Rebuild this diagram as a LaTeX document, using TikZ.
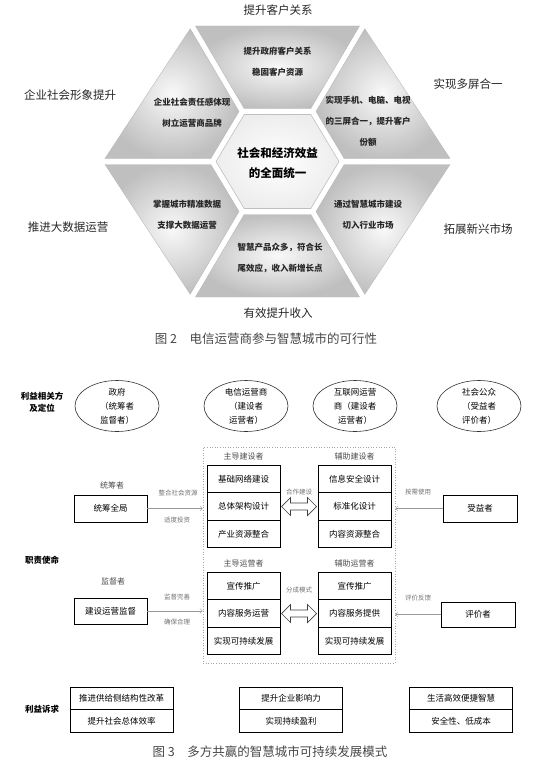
\documentclass[tikz,border=0pt]{standalone}
\usepackage{fontspec}
\setmainfont{Noto Sans CJK SC}
\usetikzlibrary{arrows.meta,positioning,shapes.geometric}

\begin{document}
\begin{tikzpicture}[
    x=1pt, y=-1pt,
    panel/.style={draw=gray!55, line width=0.4pt, inner color=gray!5, outer color=gray!50},
    midhex/.style={draw=gray!50, line width=0.6pt, inner color=white, outer color=gray!14},
    outlabel/.style={font=\fontsize{11.5}{14}\selectfont, text=black!85},
    paneltext/.style={font=\fontsize{8.5}{21}\selectfont\bfseries, align=center, text=black!85},
    figcap/.style={font=\fontsize{12.5}{15}\selectfont, text=black!72},
    rowlabel/.style={font=\fontsize{8.5}{11.5}\selectfont\bfseries, align=center},
    party/.style={ellipse, draw=black!80, line width=0.6pt, minimum width=84,
        minimum height=51, inner sep=0pt, align=center, font=\fontsize{8.5}{14}\selectfont},
    dutybox/.style={draw=black, line width=0.9pt, minimum width=73, minimum height=27.5,
        inner sep=0pt, outer sep=0pt, font=\fontsize{8.5}{10}\selectfont},
    role/.style={font=\fontsize{8}{10}\selectfont, text=black!70},
    hint/.style={font=\fontsize{6.5}{8}\selectfont, text=black!55},
    feed/.style={draw=gray!80, line width=0.4pt, -{Straight Barb[length=2.5pt,width=5pt]}},
    share/.style={draw=black!75, line width=0.7pt, fill=white, line join=miter},
    wish/.style={draw=black, line width=0.9pt, minimum width=103, minimum height=22.5,
        inner sep=0pt, outer sep=0pt, font=\fontsize{8.5}{10}\selectfont},
]

\def\hw{9}    % half height of the arrow head
\def\hl{9}    % length of the arrow head
\def\sw{3.5}  % half height of the arrow shaft

\useasboundingbox (0,0) rectangle (543,768);

% ── Figure 2: hexagon of panels ─────────────────────────────
\begin{scope}[shift={(277.5,161.5)}]
% side panels (mirrored four times)
\foreach \sx/\sy in {1/1, -1/1, 1/-1, -1/-1} {
    \path[panel, xscale=\sx, yscale=\sy]
        (-87.3,-132.7) -- (-172.5,-3) -- (-66.7,-3) -- (-38.5,-50) -- cycle;
}
% top and bottom panels
\foreach \sy in {1,-1} {
    \path[panel, yscale=\sy]
        (-82,-135.5) -- (82,-135.5) -- (33.3,-53) -- (-33.3,-53) -- cycle;
}
% centre
\path[midhex] (-33.3,-47) -- (33.3,-47) -- (61.5,0) -- (33.3,47)
    -- (-33.3,47) -- (-61.5,0) -- cycle;
\end{scope}

\node[font=\fontsize{11.5}{20}\selectfont\bfseries, align=center] (core) at (277.5,163)
    {社会和经济效益\\的全面统一};

% panel texts
\node[paneltext] (ptop) at (277.5,62) {提升政府客户关系\\稳固客户资源};
\node[paneltext] (pul)  at (192,113)  {企业社会责任感体现\\树立运营商品牌};
\node[paneltext] (pur)  at (368,121)  {实现手机、电脑、电视\\的三屏合一，提升客户\\份额};
\node[paneltext] (pll)  at (187,215)  {掌握城市精准数据\\支撑大数据运营};
\node[paneltext] (plr)  at (368,215)  {通过智慧城市建设\\切入行业市场};
\node[paneltext] (pbot) at (280,258)  {智慧产品众多，符合长\\尾效应，收入新增长点};

% outer labels
\node[outlabel] (otop) at (278,10)  {提升客户关系};
\node[outlabel] (oul)  at (70,95)   {企业社会形象提升};
\node[outlabel] (our)  at (468,84)  {实现多屏合一};
\node[outlabel] (oll)  at (68,227)  {推进大数据运营};
\node[outlabel] (olr)  at (478,229) {拓展新兴市场};
\node[outlabel] (obot) at (278,313) {有效提升收入};

\node[figcap] (cap2) at (266,339) {图 2\quad 电信运营商参与智慧城市的可行性};

% ── Figure 3: stakeholders ──────────────────────────────────
\node[rowlabel] (posl) at (42,402) {利益相关方\\及定位};
\node[party] (gov) at (117,406) {政府\\（统筹者\\监督者）};
\node[party] (tel) at (246,406) {电信运营商\\（建设者\\运营者）};
\node[party] (net) at (355,406) {互联网运营\\商（建设者\\运营者）};
\node[party] (pub) at (479,406) {社会公众\\（受益者\\评价者）};

% ── Duties ──────────────────────────────────────────────────
\node[draw=gray!70, dotted, line width=0.6pt, minimum width=192, minimum height=216,
    inner sep=0pt] (zone) at (299,555) {};

\node[role] (leadb) at (243.5,456) {主导建设者};
\node[role] (helpb) at (354.5,456) {辅助建设者};
\node[dutybox] (b1) at (243.5,479) {基础网络建设};
\node[dutybox, below=0pt of b1] (b2) {总体架构设计};
\node[dutybox, below=0pt of b2] (b3) {产业资源整合};
\node[dutybox] (r1) at (354.5,479) {信息安全设计};
\node[dutybox, below=0pt of r1] (r2) {标准化设计};
\node[dutybox, below=0pt of r2] (r3) {内容资源整合};

\node[role] (leado) at (243.5,563) {主导运营者};
\node[role] (helpo) at (354.5,563) {辅助运营者};
\node[dutybox] (o1) at (243.5,586) {宣传推广};
\node[dutybox, below=0pt of o1] (o2) {内容服务运营};
\node[dutybox, below=0pt of o2] (o3) {实现可持续发展};
\node[dutybox] (p1) at (354.5,586) {宣传推广};
\node[dutybox, below=0pt of p1] (p2) {内容服务提供};
\node[dutybox, below=0pt of p2] (p3) {实现可持续发展};

% hollow double arrows between the columns
\foreach \l/\r in {b2/r2, o2/p2} {
    \draw[share] ([xshift=1.5]\l.east) -- ++(\hl,-\hw) -- ++(0,\hw-\sw)
        -- ([shift={(-1.5-\hl,-\sw)}]\r.west) -- ++(0,\sw-\hw)
        -- ([xshift=-1.5]\r.west) -- ++(-\hl,\hw) -- ++(0,\sw-\hw)
        -- ([shift={(1.5+\hl,\sw)}]\l.east) -- ++(0,\hw-\sw) -- cycle;
}
\node[hint] (coop) at (299,492) {合作建设};
\node[hint] (split) at (299,590) {分成模式};

\node[rowlabel] (duty) at (42,560) {职责使命};

% government side
\node[role] (tcl) at (112,485) {统筹者};
\node[dutybox, minimum height=27] (tc) at (110.5,508.5) {统筹全局};
\draw[feed] (tc.east) -- (tc.east -| zone.west);
\node[hint] (tch1) at (178,493) {整合社会资源};
\node[hint] (tch2) at (177,520) {适度投资};

\node[role] (svl) at (113,581) {监督者};
\node[dutybox, minimum height=26] (sv) at (110.5,611) {建设运营监督};
\draw[feed] (sv.east) -- (sv.east -| zone.west);
\node[hint] (svh1) at (177,597) {监督完善};
\node[hint] (svh2) at (177,622) {确保合理};

% public side
\node[dutybox, minimum width=74, minimum height=27] (bn) at (480,508.5) {受益者};
\draw[feed] (bn.west) -- (bn.west -| zone.east);
\node[hint] (bnh) at (418,492) {按需使用};

\node[dutybox, minimum width=74, minimum height=25] (ev) at (478,614.5) {评价者};
\draw[feed] (ev.west) -- (ev.west -| zone.east);
\node[hint] (evh) at (418,598) {评价反馈};

% ── Interests ───────────────────────────────────────────────
\node[rowlabel] (want) at (42,709) {利益诉求};
\node[wish] (w1) at (121.5,698.5) {推进供给侧结构性改革};
\node[wish, below=0pt of w1] (w1b) {提升社会总体效率};
\node[wish] (w2) at (291,698.5) {提升企业影响力};
\node[wish, below=0pt of w2] (w2b) {实现持续盈利};
\node[wish] (w3) at (461,698.5) {生活高效便捷智慧};
\node[wish, below=0pt of w3] (w3b) {安全性、低成本};

\node[figcap] (cap3) at (270,752) {图 3\quad 多方共赢的智慧城市可持续发展模式};

\end{tikzpicture}
\end{document}
